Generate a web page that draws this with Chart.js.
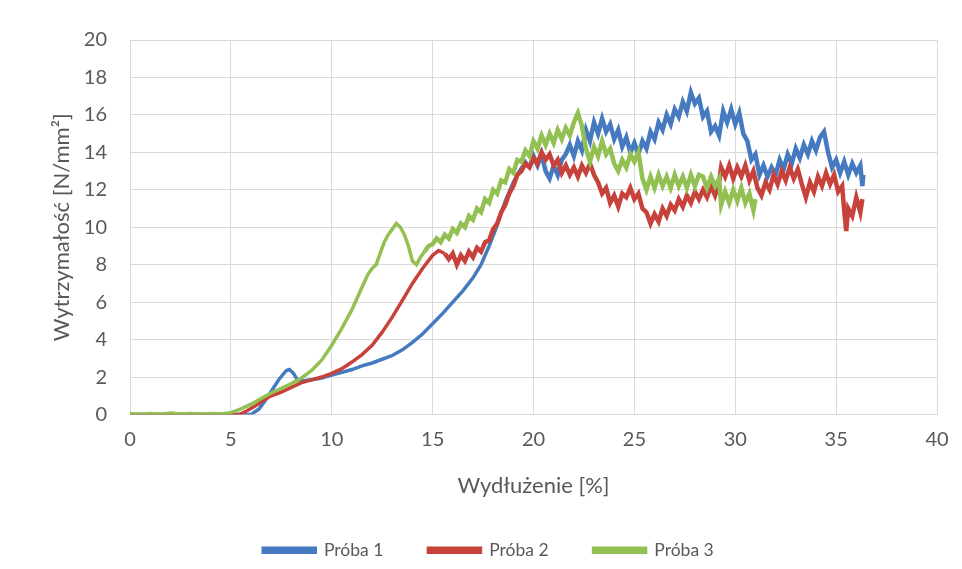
<!DOCTYPE html>
<html>
<head>
<meta charset="utf-8">
<script src="https://cdn.jsdelivr.net/npm/chart.js@4.4.1/dist/chart.umd.min.js"></script>
<style>
  html, body { margin: 0; padding: 0; background: #ffffff; }
  #wrap { width: 962px; height: 569px; }
</style>
</head>
<body>
<div id="wrap"><canvas id="c" width="962" height="569"></canvas></div>
<script>
// ---- Data ----
const seriesNames = ["Próba 1", "Próba 2", "Próba 3"];
const xTitle = "Wydłużenie [%]";
const yTitle = "Wytrzymałość [N/mm²]";

// Próba 1 (blue)
const p1x = [0,1,2,3,4,5,6.0,6.4,6.8,7.1,7.4,7.75,7.9,8.1,8.3,8.6,9.0,9.5,10.0,10.5,11.0,11.5,12.0,12.5,13.0,13.5,14.0,14.5,15.0,15.5,16.0,16.5,17.0,17.4,17.8,18.2,18.6,19.0,19.3,19.6,
  19.8,20.0,20.2,20.4,20.6,20.8,21.0,21.2,21.4,21.6,21.8,22.0,22.2,22.4,22.6,22.8,23.0,23.2,23.4,23.6,23.8,24.0,24.2,24.4,24.6,24.8,25.0,25.2,25.4,25.6,25.8,26.0,26.2,26.4,26.6,26.8,27.0,27.2,27.4,27.6,27.8,28.0,28.2,28.4,28.6,28.8,29.0,29.2,29.4,29.6,29.8,30.0,30.2,30.4,30.6,30.8,31.0,31.2,31.4,31.6,31.8,32.0,32.2,32.4,32.6,32.8,33.0,33.2,33.4,33.6,33.8,34.0,34.2,34.4,34.6,34.8,35.0,35.2,35.4,35.6,35.8,36.0,36.2,36.3,36.35];
const p1y = [0,0,0,0,0,0,0.0,0.3,0.9,1.4,1.9,2.35,2.4,2.2,1.85,1.8,1.85,1.95,2.1,2.25,2.4,2.6,2.75,2.95,3.15,3.45,3.85,4.3,4.85,5.4,6.0,6.6,7.3,8.0,9.0,10.1,11.4,12.4,13.0,13.5,
  13.2,13.8,13.3,13.9,13.0,12.6,13.3,12.8,13.6,13.9,14.4,13.8,14.6,14.1,15.2,14.6,15.6,15.0,15.8,15.1,15.5,14.7,15.2,14.3,14.8,14.0,14.5,13.9,14.6,14.2,15.1,14.7,15.6,15.2,16.0,15.5,16.3,15.9,16.7,16.2,17.2,16.6,16.9,15.9,16.2,15.1,15.4,14.9,16.2,15.6,16.3,15.5,16.1,15.0,14.6,13.6,13.9,12.8,13.3,12.7,13.2,12.8,13.6,13.1,13.9,13.4,14.2,13.7,14.4,13.9,14.6,14.1,14.8,15.1,14.0,13.2,13.6,12.9,13.5,12.8,13.4,12.9,13.3,12.2,12.8];

// Próba 2 (red)
const p2x = [0,1,2,3,4,5,5.4,5.8,6.2,6.6,7.0,7.5,8.0,8.5,9.0,9.5,10.0,10.5,11.0,11.5,12.0,12.5,13.0,13.5,14.0,14.5,15.0,15.3,15.6,
  15.8,16.0,16.2,16.4,16.6,16.8,17.0,17.2,17.4,17.6,17.8,18.0,18.2,18.4,18.6,18.8,19.0,19.2,19.4,19.6,19.8,20.0,20.2,20.4,20.6,20.8,21.0,21.2,21.4,21.6,21.8,22.0,22.2,22.4,22.6,22.8,23.0,23.2,23.4,23.6,23.8,24.0,24.2,24.4,24.6,24.8,25.0,25.2,25.4,25.6,25.8,26.0,26.2,26.4,26.6,26.8,27.0,27.2,27.4,27.6,27.8,28.0,28.2,28.4,28.6,28.8,29.0,29.2,29.3,29.5,29.7,29.9,30.1,30.3,30.5,30.7,30.9,31.1,31.3,31.5,31.7,31.9,32.1,32.3,32.5,32.7,32.9,33.1,33.3,33.5,33.7,33.9,34.1,34.3,34.5,34.7,34.9,35.1,35.3,35.4,35.5,35.6,35.8,36.0,36.2,36.3];
const p2y = [0,0,0,0,0,0,0.0,0.2,0.45,0.75,1.0,1.2,1.45,1.7,1.85,2.0,2.2,2.45,2.8,3.2,3.7,4.4,5.2,6.1,7.0,7.8,8.5,8.75,8.6,
  8.3,8.6,8.0,8.5,8.2,8.7,8.4,8.9,8.7,9.2,9.3,9.9,10.2,10.8,11.2,11.8,12.2,12.8,13.0,13.4,13.2,13.7,13.4,14.0,13.6,13.9,13.3,13.6,12.9,13.3,12.8,13.2,12.7,13.3,12.9,13.4,12.8,12.4,11.8,12.1,11.3,11.7,11.1,11.8,11.6,12.1,11.5,11.8,11.0,10.8,10.2,10.7,10.3,11.0,10.6,11.2,10.9,11.5,11.1,11.7,11.3,11.9,11.5,12.0,11.6,12.2,11.7,12.4,13.2,12.7,13.3,12.6,13.2,12.7,13.3,12.5,13.0,12.1,11.7,12.4,12.0,12.8,12.3,13.0,12.5,13.2,12.6,13.1,12.3,11.6,12.4,11.9,12.7,12.2,12.9,12.3,12.8,11.9,12.2,10.9,9.8,11.0,10.6,11.6,10.8,11.5];

// Próba 3 (green)
const p3x = [0,0.5,1,1.5,2,2.5,3,3.5,4,4.5,5.0,5.5,6.0,6.5,7.0,7.5,8.0,8.5,9.0,9.5,10.0,10.5,11.0,11.5,11.8,12.0,12.2,12.4,12.6,12.8,13.0,13.2,13.4,13.6,13.8,14.0,14.2,14.4,14.6,14.8,15.0,15.2,15.4,15.6,15.8,16.0,16.2,16.4,16.6,16.8,17.0,17.2,17.4,17.6,17.8,18.0,18.2,18.4,18.6,18.8,19.0,19.2,19.4,19.6,19.8,20.0,20.2,20.4,20.6,20.8,21.0,21.2,21.4,21.6,21.8,22.0,22.2,22.4,22.6,22.8,23.0,23.2,23.4,23.6,23.8,24.0,24.2,24.4,24.6,24.8,25.0,25.2,25.4,25.6,25.8,26.0,26.2,26.4,26.6,26.8,27.0,27.2,27.4,27.6,27.8,28.0,28.2,28.4,28.6,28.8,29.0,29.2,29.3,29.5,29.7,29.9,30.1,30.3,30.5,30.7,30.9,31.0];
const p3y = [0.05,0.0,0.05,0.02,0.08,0.03,0.05,0.02,0.05,0.03,0.1,0.3,0.55,0.85,1.15,1.4,1.65,1.95,2.35,2.9,3.7,4.6,5.6,6.8,7.5,7.8,8.0,8.6,9.2,9.6,9.9,10.2,10.0,9.6,9.0,8.2,8.0,8.4,8.7,9.0,9.1,9.4,9.2,9.6,9.4,9.9,9.7,10.2,10.0,10.6,10.4,11.0,10.8,11.5,11.3,12.0,11.8,12.5,12.4,13.1,12.9,13.6,13.5,14.1,13.8,14.6,14.2,14.9,14.4,15.0,14.5,15.2,14.7,15.3,14.9,15.6,16.1,15.4,14.2,13.5,14.3,13.8,14.6,13.9,14.2,13.4,13.0,13.6,13.2,13.9,13.5,14.0,12.6,12.0,12.7,12.1,12.8,12.2,12.7,12.1,12.8,12.2,12.7,12.1,12.8,12.2,12.8,12.7,12.1,12.7,12.2,12.6,11.2,11.9,11.3,12.0,11.4,12.1,11.3,11.8,10.9,11.5];

const xTicks = { min: 0, max: 40, step: 5 };
const yTicks = { min: 0, max: 20, step: 2 };

const colors = ["#4579c0", "#c7423b", "#93c052"];
// x from which each series' trace becomes a noisy band (drawn thicker)
const noisyFrom = [19.7, 15.6, 14.6];

function pts(xs, ys) { return xs.map((x, i) => ({ x: x, y: ys[i] })); }
function makeSet(i, xs, ys, order) {
  return {
    label: seriesNames[i], data: pts(xs, ys),
    borderColor: colors[i], backgroundColor: colors[i],
    borderWidth: 3.5, pointRadius: 0, tension: 0, order: order,
    segment: { borderWidth: ctx => (ctx.p0.parsed.x >= noisyFrom[i] ? 4.5 : 3.5) }
  };
}

const FONT = "Lato, 'Open Sans', sans-serif";
const GRAY = "#595959";

new Chart(document.getElementById('c'), {
  type: 'line',
  data: {
    datasets: [
      makeSet(0, p1x, p1y, 3),
      makeSet(1, p2x, p2y, 2),
      makeSet(2, p3x, p3y, 1)
    ]
  },
  options: {
    responsive: false,
    animation: false,
    layout: { padding: { top: 40, right: 25, bottom: 0, left: 40 } },
    plugins: {
      tooltip: { enabled: false },
      legend: {
        position: 'bottom',
        maxHeight: 75,
        labels: {
          sort: (a, b) => a.datasetIndex - b.datasetIndex,
          boxWidth: 52,
          boxHeight: 4,
          padding: 45,
          color: GRAY,
          font: { family: FONT, size: 17.5 }
        }
      }
    },
    scales: {
      x: {
        type: 'linear',
        min: xTicks.min, max: xTicks.max,
        ticks: { stepSize: xTicks.step, color: GRAY, padding: 13, font: { family: FONT, size: 20 } },
        grid: { color: '#d9d9d9', drawTicks: false },
        border: { color: '#d9d9d9' },
        title: { display: true, text: xTitle, color: GRAY, font: { family: FONT, size: 22 }, padding: { top: 0, bottom: -3 } },
        afterFit: (s) => { s.height = 82; }
      },
      y: {
        min: yTicks.min, max: yTicks.max,
        ticks: { stepSize: yTicks.step, color: GRAY, padding: 23, font: { family: FONT, size: 20 } },
        grid: { color: '#d9d9d9', drawTicks: false },
        border: { color: '#d9d9d9' },
        title: { display: true, text: yTitle, color: GRAY, font: { family: FONT, size: 22 }, padding: { top: 9, bottom: 0 } },
        afterFit: (s) => { s.width = 90; }
      }
    }
  }
});
</script>
</body>
</html>
